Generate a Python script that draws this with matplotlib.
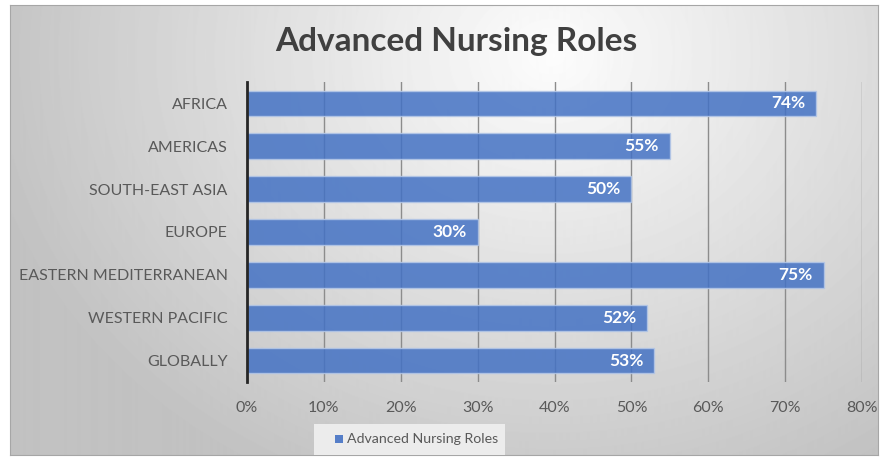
import numpy as np
import matplotlib
matplotlib.use("Agg")
import matplotlib.pyplot as plt
from matplotlib.patches import Rectangle

plt.rcParams['font.family'] = ['Lato', 'DejaVu Sans']

regions = ["AFRICA", "AMERICAS", "SOUTH-EAST ASIA", "EUROPE",
           "EASTERN MEDITERRANEAN", "WESTERN PACIFIC", "GLOBALLY"]
values = [74, 55, 50, 30, 75, 52, 53]
x_ticks = [0, 10, 20, 30, 40, 50, 60, 70, 80]
series_name = "Advanced Nursing Roles"

W, H = 888, 463
fig = plt.figure(figsize=(W / 100, H / 100), dpi=100)
fig.patch.set_facecolor("white")

# gradient background of the chart area
bg = fig.add_axes([10 / W, 1 - 455 / H, 868 / W, 450 / H], zorder=0)
yy, xx = np.mgrid[0:450, 0:868]
d = np.sqrt(((xx - 540) / 600.0) ** 2 + ((yy - 50) / 500.0) ** 2)
shade = np.clip(0.99 - 0.24 * d, 0.76, 0.99)
bg.imshow(shade, cmap="gray", vmin=0, vmax=1, aspect="auto",
          extent=[0, 1, 0, 1], origin="upper")
bg.set_xticks([])
bg.set_yticks([])
for s in bg.spines.values():
    s.set_color("#a6a6a6")
    s.set_linewidth(0.8)

ax = fig.add_axes([247 / W, 1 - 382 / H, 615 / W, 300 / H], zorder=1)
ax.patch.set_alpha(0)

ypos = np.arange(len(regions))
ax.barh(ypos, values, height=0.6, color="#4472C4", alpha=0.85,
        edgecolor="#b4c7e7", linewidth=1.0, zorder=3)
for y, v in zip(ypos, values):
    ax.text(v - 1.4, y, f"{v}%", ha="right", va="center", color="white",
            fontsize=12.5, fontweight="bold", zorder=4)

ax.set_xlim(0, 80)
ax.set_ylim(len(regions) - 0.5, -0.5)
ax.set_xticks(x_ticks)
ax.set_xticklabels([f"{t}%" for t in x_ticks], color="#595959", fontsize=11.5)
ax.set_yticks(ypos)
ax.set_yticklabels(regions, color="#595959", fontsize=11.5)
ax.tick_params(axis="both", length=0)
ax.tick_params(axis="x", pad=14)
ax.tick_params(axis="y", pad=14)
ax.grid(axis="x", color="#8c8c8c", linewidth=1.0, zorder=1)
ax.set_axisbelow(True)
for name in ["top", "right", "bottom"]:
    ax.spines[name].set_visible(False)
ax.spines["left"].set_color("#262626")
ax.spines["left"].set_linewidth(2)
ax.spines["left"].set_zorder(5)

fig.text(456 / W, 1 - 41 / H, "Advanced Nursing Roles", ha="center",
         va="center", fontsize=24, fontweight="bold", color="#404040")

# legend
fig.add_artist(Rectangle((314 / W, 1 - 455 / H), 191 / W, 31 / H,
                         transform=fig.transFigure, facecolor="#ececec",
                         edgecolor="none", zorder=2))
fig.add_artist(Rectangle((335 / W, 1 - 443 / H), 8 / W, 8 / H,
                         transform=fig.transFigure, facecolor="#4472C4",
                         edgecolor="none", alpha=0.9, zorder=3))
fig.text(347 / W, 1 - 439 / H, series_name, ha="left", va="center",
         fontsize=10.2, color="#595959", zorder=3)

fig.savefig("out.png", dpi=100)
